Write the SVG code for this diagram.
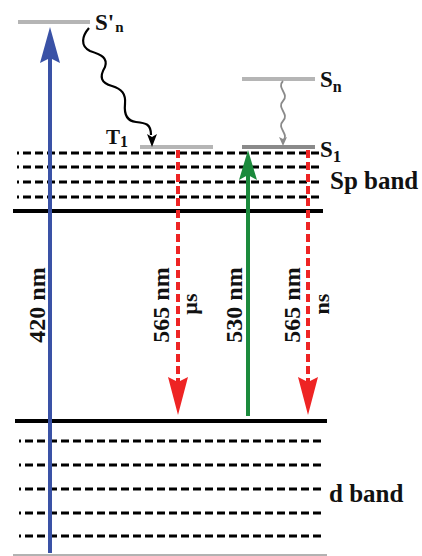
<svg xmlns="http://www.w3.org/2000/svg" width="422" height="556" viewBox="0 0 422 556">
<style>
.lbl{font-family:"Liberation Serif","Times New Roman",serif;font-weight:bold;fill:#111}
.dash{stroke:#000;stroke-width:3;stroke-dasharray:8 4;stroke-dashoffset:6}
.lvl{stroke:#b5b5b5;stroke-width:4}
.red{stroke:#ee2424;stroke-width:4;stroke-dasharray:8 4;fill:none}
</style>
<rect width="422" height="556" fill="#fff"/>
<g id="sp-band">
<line class="dash" x1="17" y1="153" x2="320" y2="153"/>
<line class="dash" x1="17" y1="167" x2="320" y2="167"/>
<line class="dash" x1="17" y1="182" x2="320" y2="182"/>
<line class="dash" x1="17" y1="197" x2="320" y2="197"/>
<line x1="13" y1="211" x2="323" y2="211" stroke="#000" stroke-width="4"/>
<text class="lbl" x="330" y="189" font-size="25">Sp band</text>
</g>
<g id="d-band">
<line x1="15" y1="421" x2="327" y2="421" stroke="#000" stroke-width="4"/>
<line class="dash" x1="19" y1="441" x2="322" y2="441"/>
<line class="dash" x1="19" y1="465" x2="322" y2="465"/>
<line class="dash" x1="19" y1="489" x2="322" y2="489"/>
<line class="dash" x1="19" y1="513" x2="322" y2="513"/>
<line class="dash" x1="19" y1="536" x2="322" y2="536"/>
<line x1="13" y1="555" x2="327" y2="555" stroke="#999" stroke-width="1.5"/>
<text class="lbl" x="329" y="502" font-size="25">d band</text>
</g>
<g id="Sn-prime">
<line class="lvl" x1="18" y1="22" x2="90" y2="22"/>
<text class="lbl" x="95" y="30" font-size="23">S'<tspan font-size="15" dx="1" dy="2">n</tspan></text>
</g>
<g id="T1">
<line class="lvl" x1="140" y1="147" x2="213" y2="147"/>
<text class="lbl" x="106" y="144" font-size="21">T<tspan font-size="16" dy="3">1</tspan></text>
</g>
<g id="Sn">
<line class="lvl" x1="242" y1="79" x2="315" y2="79"/>
<text class="lbl" x="320" y="87" font-size="23">S<tspan font-size="16" dy="5">n</tspan></text>
</g>
<g id="S1">
<line x1="242" y1="147" x2="315" y2="147" stroke="#8a8a8a" stroke-width="4"/>
<text class="lbl" x="320" y="157" font-size="23">S<tspan font-size="17" dy="5">1</tspan></text>
</g>
<g id="connectors">
<line x1="50" y1="553" x2="50" y2="55" stroke="#3a52a6" stroke-width="4"/>
<polygon points="50,27 60,63 50,58 40,63" fill="#3a52a6"/>
<line x1="248" y1="416" x2="248" y2="172" stroke="#1b8a3c" stroke-width="4"/>
<polygon points="248,150 257,180 248,175 239,180" fill="#1b8a3c"/>
<line class="red" x1="178" y1="150" x2="178" y2="385"/>
<polygon points="178,415 188,377 178,382 168,377" fill="#ee2424"/>
<line class="red" x1="308" y1="150" x2="308" y2="385"/>
<polygon points="308,415 318,377 308,382 298,377" fill="#ee2424"/>
<path d="M89,28 C82,36 80,46 90,51 C102,55 108,58 105,67 C99,77 101,83 112,86 C122,89 126,94 125,104 C124,114 127,121 136,122 C146,123 151,124 151,135" fill="none" stroke="#000" stroke-width="2.2"/>
<polygon points="152,147 147,134 152,137 157,134" fill="#000"/>
<path d="M283,81 C276,88 290,94 283,101 C276,108 290,114 283,121 C276,128 290,134 283,141" fill="none" stroke="#8a8a8a" stroke-width="1.8"/>
<polygon points="283,146 279,137 283,139 287,137" fill="#8a8a8a"/>
</g>
<g id="labels">
<text class="lbl" font-size="24" text-anchor="middle" transform="translate(45,305) rotate(-90)">420 nm</text>
<text class="lbl" font-size="24" text-anchor="middle" transform="translate(169,305) rotate(-90)">565 nm</text>
<text class="lbl" font-size="22" text-anchor="middle" transform="translate(197,304) rotate(-90)">µs</text>
<text class="lbl" font-size="24" text-anchor="middle" transform="translate(242,305) rotate(-90)">530 nm</text>
<text class="lbl" font-size="24" text-anchor="middle" transform="translate(300,305) rotate(-90)">565 nm</text>
<text class="lbl" font-size="22" text-anchor="middle" transform="translate(329,304) rotate(-90)">ns</text>
</g>
</svg>
